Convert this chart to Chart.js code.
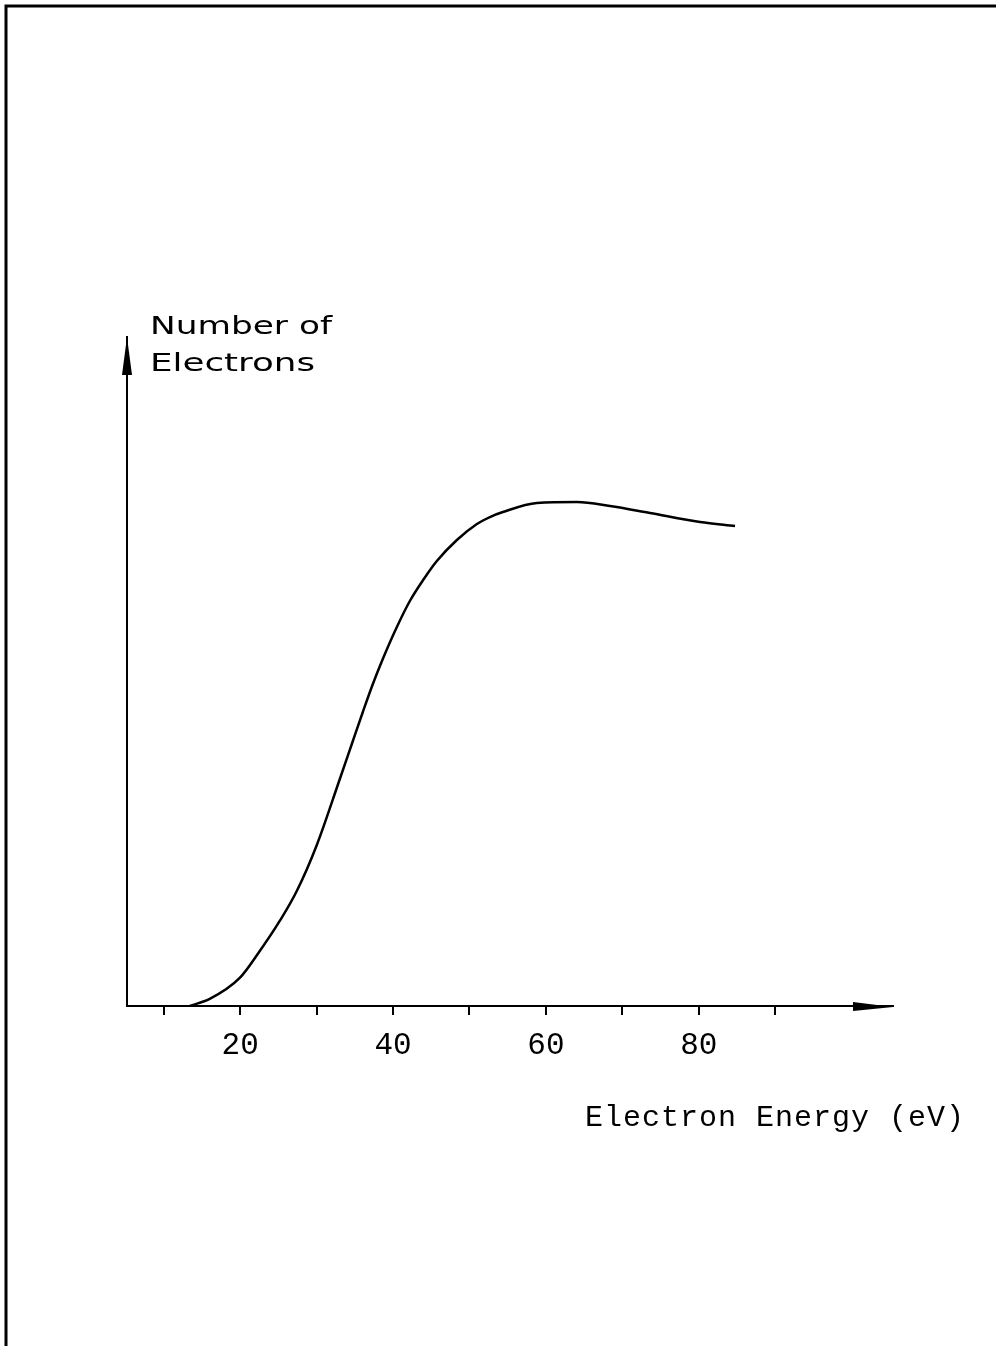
<!DOCTYPE html>
<html lang="en">
<head>
<meta charset="UTF-8">
<title>Electron Energy Distribution</title>
<script src="https://cdn.jsdelivr.net/npm/chart.js"></script>
<style>
  body { margin: 0; background: #fff; }
  #wrap { position: relative; width: 996px; height: 1346px; }
</style>
</head>
<body>
<div id="wrap"><canvas id="chart" width="996" height="1346"></canvas></div>
<script>
// values (x in eV, y in arbitrary units 0..100)
const energy    = [13.40, 16.02, 19.95, 22.57, 25.18, 27.41, 30.03, 33.04, 34.61, 36.05, 37.36, 38.66, 40.50, 42.20, 44.03, 45.73, 48.35, 50.97, 52.67, 54.37, 58.82, 64.05, 68.38, 73.61, 80.16, 84.74];
const electrons = [0,     1.05,  4.19,  8.22,  12.71, 17.19, 24.07, 33.93, 39.16, 43.95, 48.13, 51.87, 56.65, 60.54, 63.83, 66.52, 69.66, 72.05, 73.09, 73.84, 75.19, 75.34, 74.74, 73.69, 72.35, 71.75];
const tickValues = [10, 20, 30, 40, 50, 60, 70, 80, 90];
const tickLabels = ['', '20', '', '40', '', '60', '', '80', ''];
const xTitle = 'Electron Energy (eV)';
const yTitle = ['Number of', 'Electrons'];

const points = energy.map((e, i) => ({ x: e, y: electrons[i] }));

const decor = {
  id: 'decor',
  beforeDraw(chart) {
    const c = chart.ctx;
    c.save();
    c.fillStyle = '#fff';
    c.fillRect(0, 0, chart.width, chart.height);
    // page frame (top and left edges only)
    c.strokeStyle = '#000';
    c.lineWidth = 3;
    c.beginPath();
    c.moveTo(6, chart.height);
    c.lineTo(6, 6);
    c.lineTo(chart.width, 6);
    c.stroke();
    c.restore();
  },
  afterDraw(chart) {
    const c = chart.ctx;
    const a = chart.chartArea;
    c.save();
    c.fillStyle = '#000';
    // y arrow head
    c.beginPath();
    c.moveTo(a.left, a.top);
    c.lineTo(a.left - 5, a.top + 38);
    c.lineTo(a.left + 5, a.top + 38);
    c.closePath();
    c.fill();
    // x arrow head
    c.beginPath();
    c.moveTo(a.right, a.bottom + 1);
    c.lineTo(a.right - 40, a.bottom - 4);
    c.lineTo(a.right - 40, a.bottom + 5);
    c.closePath();
    c.fill();

    // x title
    c.font = '30px "Liberation Mono"';
    c.letterSpacing = '1px';
    c.textBaseline = 'alphabetic';
    c.textAlign = 'left';
    c.fillText(xTitle, 585, 1126);

    // y title, stretched like the hand lettering
    c.letterSpacing = '0px';
    c.font = '24px "DejaVu Sans"';
    const rows = [[yTitle[0], 150, 334, 182], [yTitle[1], 150, 371, 165]];
    rows.forEach(([t, x, y, w]) => {
      const m = c.measureText(t).width;
      c.save();
      c.translate(x, y);
      c.scale(w / m, 1);
      c.fillText(t, 0, 0);
      c.restore();
    });
    c.restore();
  }
};

new Chart(document.getElementById('chart'), {
  type: 'line',
  data: {
    datasets: [{
      data: points,
      borderColor: '#000',
      borderWidth: 2.5,
      pointRadius: 0,
      fill: false,
      cubicInterpolationMode: 'monotone'
    }]
  },
  options: {
    responsive: false,
    animation: false,
    devicePixelRatio: 1,
    layout: { padding: { left: 127, right: 103, top: 337, bottom: 280 } },
    plugins: { legend: { display: false }, tooltip: { enabled: false } },
    scales: {
      x: {
        type: 'linear',
        min: 5.2,
        max: 105.4,
        afterBuildTicks(scale) { scale.ticks = tickValues.map(v => ({ value: v })); },
        afterFit(scale) { scale.height = 60; },
        ticks: {
          color: '#000',
          padding: 12,
          maxRotation: 0,
          autoSkip: false,
          font: { family: 'Liberation Mono', size: 31 },
          callback: (v) => tickLabels[tickValues.indexOf(v)] ?? ''
        },
        grid: { drawOnChartArea: false, color: '#000', lineWidth: 2, tickLength: 9 },
        border: { color: '#000', width: 2 }
      },
      y: {
        type: 'linear',
        min: 0,
        max: 100,
        afterFit(scale) { scale.width = 0; },
        ticks: { display: false },
        grid: { display: false, drawTicks: false },
        border: { color: '#000', width: 2 }
      }
    }
  },
  plugins: [decor]
});
</script>
</body>
</html>
